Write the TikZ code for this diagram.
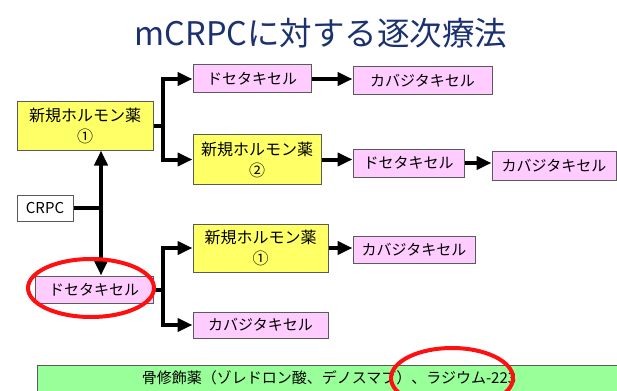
\documentclass[tikz,border=0pt]{standalone}
\usepackage{fontspec}
\setmainfont{Noto Sans CJK JP}
\usetikzlibrary{arrows.meta}
\definecolor{boxyellow}{HTML}{FFFF66}
\definecolor{boxpink}{HTML}{FFCCFF}
\definecolor{boxgreen}{HTML}{99FF99}
\definecolor{titlenavy}{HTML}{1B3170}
\definecolor{boxedge}{HTML}{5A5A5A}
\definecolor{markred}{HTML}{FF1010}
\begin{document}
\begin{tikzpicture}[x=1pt,y=-1pt,
  base/.style={draw=boxedge,line width=1pt,inner sep=0pt,align=center,
    font=\fontsize{15}{20}\selectfont,text=black},
  hbox/.style={base,fill=boxyellow,minimum width=#1,font=\fontsize{16}{21}\selectfont},
  pbox/.style={base,fill=boxpink,minimum width=#1,minimum height=28pt},
  wbox/.style={base,fill=white},
  conn/.style={line width=4pt,black,line join=miter},
  arr/.style={conn,-{Triangle[length=15pt,width=13pt]}},
  redring/.style={draw=markred,line width=4pt}]
\useasboundingbox (0,0) rectangle (617,390);
% title
\node[font=\fontsize{32.5}{36}\selectfont,text=titlenavy] (title) at (321,33) {mCRPCに対する逐次療法};
% boxes
\node[hbox=136pt,minimum height=48pt] (h1) at (85,126) {新規ホルモン薬\\①};
\node[pbox=118pt] (d1) at (252,79) {ドセタキセル};
\node[pbox=139pt] (c1) at (422.5,81) {カバジタキセル};
\node[hbox=128pt,minimum height=49pt] (h2) at (257,159.5) {新規ホルモン薬\\②};
\node[pbox=111pt] (d2) at (408.5,163) {ドセタキセル};
\node[pbox=124pt,minimum height=29pt] (c2) at (554,165.5) {カバジタキセル};
\node[wbox,minimum width=56pt,minimum height=26pt] (crpc) at (45,208) {CRPC};
\node[pbox=118pt,minimum height=27pt] (d3) at (94,289.5) {ドセタキセル};
\node[hbox=135pt,minimum height=48pt] (h3) at (260.5,248) {新規ホルモン薬\\①};
\node[pbox=122pt,minimum height=27pt] (c3) at (414,249.5) {カバジタキセル};
\node[pbox=135pt,minimum height=26pt] (c4) at (260.5,325) {カバジタキセル};
\node[base,fill=boxgreen,minimum width=582pt,minimum height=40pt,anchor=north west] (bone) at (37,365) {};
\node[font=\fontsize{15}{20}\selectfont] (bonetext) at (329,378) {骨修飾薬（ゾレドロン酸、デノスマブ）、ラジウム-223};
% junctions
\coordinate (j0) at (101,208);
\coordinate (j1) at (163,126);
\coordinate (j2) at (163,289.5);
% connectors
\draw[conn] (crpc.east) -- ([xshift=2pt]j0);
\draw[arr] ([yshift=2pt]j0) -- (j0 |- h1.south);
\draw[arr] ([yshift=-2pt]j0) -- (j0 |- d3.north);
\draw[conn] (h1.east) -- (j1);
\draw[arr] (j1) |- (d1.west);
\draw[arr] (j1) |- (h2.west);
\draw[conn] (d3.east) -- (j2);
\draw[arr] (j2) |- (h3.west);
\draw[arr] (j2) |- (c4.west);
\draw[arr] (d1.east) -- (d1.east -| c1.west);
\draw[arr] (h2.east) -- (h2.east -| d2.west);
\draw[arr] (d2.east) -- (d2.east -| c2.west);
\draw[arr] (h3.east) -- (h3.east -| c3.west);
% red marks
\draw[redring] (91,288) ellipse [x radius=63, y radius=29];
\draw[redring] (452,378) ellipse [x radius=61, y radius=30];
\end{tikzpicture}
\end{document}
